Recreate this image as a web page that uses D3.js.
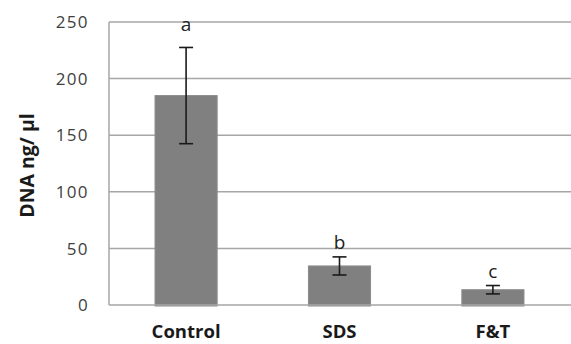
<!DOCTYPE html>
<html>
<head>
<meta charset="utf-8">
<script src="https://cdn.jsdelivr.net/npm/d3@7/dist/d3.min.js"></script>
<style>
  body { margin: 0; background: #fff; }
  svg { display: block; }
</style>
</head>
<body>
<div id="plot"></div>
<script>
// values
const categories = ["Control", "SDS", "F&T"];
const means = [185, 34.5, 13.5];
const errors = [42.5, 8, 3.7];
const letters = ["a", "b", "c"];
// where the significance letters sit, in y units
const letterAt = [242, 49.5, 24];
const yTicks = [0, 50, 100, 150, 200, 250];

const width = 571;
const height = 344;
const margin = { top: 22, right: 1, bottom: 39, left: 109 };

const svg = d3.select("#plot").append("svg")
    .attr("width", width)
    .attr("height", height);

const x = d3.scaleBand()
    .domain(categories)
    .range([margin.left, width - margin.right])
    .paddingInner(0.595)
    .paddingOuter(0.3);

const y = d3.scaleLinear()
    .domain([0, 250])
    .range([height - margin.bottom, margin.top]);

const font = "'Open Sans', sans-serif";

// gridlines
svg.append("g")
    .attr("stroke", "#a6a6a6")
    .attr("stroke-width", 1.5)
    .selectAll("line")
    .data(yTicks.filter(t => t > 0))
    .join("line")
    .attr("x1", margin.left)
    .attr("x2", width)
    .attr("y1", d => y(d))
    .attr("y2", d => y(d));

// y axis labels
svg.append("g")
    .attr("font-family", font)
    .attr("font-size", 17)
    .attr("letter-spacing", 1.4)
    .attr("fill", "#404040")
    .attr("text-anchor", "end")
    .selectAll("text")
    .data(yTicks)
    .join("text")
    .attr("x", 89)
    .attr("y", d => y(d))
    .attr("dy", "0.36em")
    .text(d => d);

// bars
svg.append("g")
    .attr("fill", "#808080")
    .attr("stroke", "#8c8c8c")
    .attr("stroke-width", 1)
    .selectAll("rect")
    .data(categories)
    .join("rect")
    .attr("x", d => x(d))
    .attr("width", x.bandwidth())
    .attr("y", (d, i) => y(means[i]))
    .attr("height", (d, i) => y(0) - y(means[i]) + 1);

// axis lines
svg.append("line")
    .attr("stroke", "#a6a6a6")
    .attr("stroke-width", 1.5)
    .attr("x1", margin.left).attr("x2", margin.left)
    .attr("y1", y(250)).attr("y2", y(0));
svg.append("line")
    .attr("stroke", "#a6a6a6")
    .attr("stroke-width", 1.5)
    .attr("x1", margin.left).attr("x2", width)
    .attr("y1", y(0)).attr("y2", y(0));

// error bars
const eb = svg.append("g")
    .attr("stroke", "#1a1a1a")
    .attr("stroke-width", 1.6);
categories.forEach((c, i) => {
    const cx = x(c) + x.bandwidth() / 2;
    const hi = y(means[i] + errors[i]);
    const lo = y(means[i] - errors[i]);
    eb.append("line").attr("x1", cx).attr("x2", cx).attr("y1", hi).attr("y2", lo);
    eb.append("line").attr("x1", cx - 7).attr("x2", cx + 7).attr("y1", hi).attr("y2", hi);
    eb.append("line").attr("x1", cx - 7).attr("x2", cx + 7).attr("y1", lo).attr("y2", lo);
});

// significance letters
svg.append("g")
    .attr("font-family", font)
    .attr("font-size", 19)
    .attr("fill", "#222")
    .attr("text-anchor", "middle")
    .selectAll("text")
    .data(categories)
    .join("text")
    .attr("x", d => x(d) + x.bandwidth() / 2)
    .attr("y", (d, i) => y(letterAt[i]))
    .text((d, i) => letters[i]);

// category labels
svg.append("g")
    .attr("font-family", font)
    .attr("font-size", 18.5)
    .attr("font-weight", "bold")
    .attr("fill", "#1a1a1a")
    .attr("text-anchor", "middle")
    .selectAll("text")
    .data(categories)
    .join("text")
    .attr("x", d => x(d) + x.bandwidth() / 2)
    .attr("y", 338)
    .text(d => d);

// y title
svg.append("text")
    .attr("font-family", font)
    .attr("font-size", 19.5)
    .attr("font-weight", "bold")
    .attr("fill", "#1a1a1a")
    .attr("text-anchor", "middle")
    .attr("transform", `translate(34,${y(125) + 2}) rotate(-90)`)
    .text("DNA ng/ µl");
</script>
</body>
</html>
